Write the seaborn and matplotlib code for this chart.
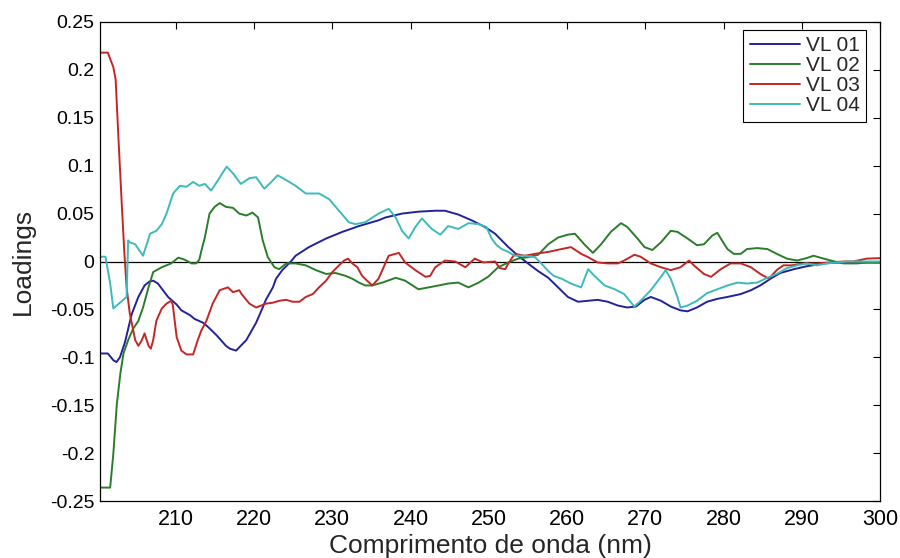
import matplotlib
matplotlib.use("Agg")
import matplotlib.pyplot as plt
import seaborn as sns
import pandas as pd

# Wavelength (nm) and loading values for each latent variable
vl01_x = [200.3, 201.3, 202.0, 202.4, 202.85, 203.5, 204.35, 205.2, 206.0, 206.6,
          207.1, 207.7, 209.0, 210.1, 210.7, 211.8, 212.4, 213.5, 214.2, 215.2,
          216.4, 216.9, 217.7, 219.0, 220.25, 221.1, 221.5, 222.4, 222.8, 223.6,
          224.7, 225.3, 227.0, 229.2, 231.3, 233.4, 235.9, 236.8, 238.9, 241.0,
          243.15, 244.4, 246.1, 247.8, 249.5, 250.8, 252.5, 253.75, 255.0, 256.3,
          257.6, 258.85, 260.1, 261.4, 262.7, 263.9, 265.2, 266.5, 267.7, 268.8,
          269.9, 270.7, 272.0, 273.25, 274.5, 275.4, 276.6, 277.9, 279.2, 280.5,
          282.2, 283.5, 284.7, 286.0, 287.25, 289.0, 290.6, 292.8, 294.9, 297.0,
          300.0]
vl01_y = [-0.096, -0.096, -0.103, -0.105, -0.100, -0.084, -0.055, -0.037, -0.025, -0.021,
          -0.020, -0.023, -0.037, -0.045, -0.051, -0.056, -0.060, -0.064, -0.069, -0.077,
          -0.088, -0.091, -0.093, -0.082, -0.064, -0.048, -0.040, -0.027, -0.018, -0.009,
          0.000, 0.006, 0.015, 0.024, 0.031, 0.037, 0.043, 0.046, 0.050, 0.052,
          0.053, 0.053, 0.049, 0.043, 0.036, 0.029, 0.015, 0.006, -0.002, -0.010,
          -0.017, -0.027, -0.037, -0.042, -0.041, -0.040, -0.042, -0.046, -0.048, -0.047,
          -0.040, -0.037, -0.041, -0.047, -0.051, -0.052, -0.048, -0.042, -0.039, -0.037,
          -0.034, -0.030, -0.025, -0.018, -0.012, -0.008, -0.005, -0.002, -0.001, -0.001,
          -0.001]

vl02_x = [200.3, 201.6, 202.0, 202.45, 202.9, 203.3, 203.9, 204.55, 205.2, 205.8,
          206.5, 207.1, 208.2, 209.4, 210.3, 211.1, 212.0, 212.6, 213.0, 213.25,
          213.7, 214.3, 214.95, 215.6, 216.4, 217.3, 218.1, 219.0, 219.8, 220.5,
          221.1, 221.75, 222.6, 223.2, 224.1, 225.3, 226.6, 227.9, 229.2, 230.4,
          231.7, 232.55, 233.4, 234.2, 235.1, 236.4, 238.1, 239.3, 241.0, 242.3,
          243.6, 244.8, 246.1, 247.4, 248.7, 249.9, 251.2, 252.5, 253.75, 255.0,
          256.3, 257.6, 258.85, 260.1, 261.0, 262.2, 263.3, 264.35, 265.6, 266.9,
          267.7, 269.0, 269.9, 270.9, 272.0, 273.25, 274.1, 275.4, 276.6, 277.5,
          278.55, 279.2, 279.8, 280.5, 281.3, 282.2, 283.0, 284.3, 285.6, 286.8,
          288.1, 289.4, 290.6, 291.5, 292.8, 294.05, 295.3, 297.05, 298.3, 300.0]
vl02_y = [-0.236, -0.236, -0.201, -0.149, -0.117, -0.096, -0.082, -0.070, -0.062, -0.048,
          -0.027, -0.011, -0.006, -0.002, 0.004, 0.002, -0.002, -0.002, 0.002, 0.011,
          0.025, 0.050, 0.057, 0.061, 0.057, 0.056, 0.050, 0.048, 0.051, 0.046,
          0.022, 0.0045, -0.006, -0.008, -0.002, -0.002, -0.004, -0.009, -0.013, -0.012,
          -0.015, -0.018, -0.022, -0.025, -0.025, -0.022, -0.017, -0.020, -0.029, -0.027,
          -0.025, -0.023, -0.022, -0.027, -0.022, -0.016, -0.006, -0.001, 0.003, 0.0045,
          0.007, 0.018, 0.025, 0.028, 0.029, 0.018, 0.009, 0.018, 0.031, 0.040,
          0.036, 0.024, 0.015, 0.012, 0.020, 0.032, 0.031, 0.024, 0.017, 0.018,
          0.027, 0.030, 0.022, 0.013, 0.008, 0.008, 0.013, 0.014, 0.013, 0.008,
          0.003, 0.001, 0.0035, 0.006, 0.003, 0.0003, -0.002, -0.002, -0.001, -0.001]

vl03_x = [200.3, 201.3, 202.0, 202.3, 202.65, 203.1, 203.4, 203.7, 204.1, 204.55,
          204.8, 205.2, 205.6, 206.0, 206.5, 206.8, 207.1, 207.5, 208.2, 208.8,
          209.4, 209.6, 210.1, 210.7, 211.35, 212.2, 212.8, 213.25, 213.9, 214.7,
          215.6, 216.65, 217.3, 218.1, 218.4, 219.4, 220.25, 220.9, 221.5, 222.4,
          223.2, 224.1, 224.9, 225.8, 226.6, 227.5, 228.3, 229.2, 230.0, 230.85,
          231.5, 232.0, 232.55, 233.2, 233.8, 234.7, 235.1, 235.9, 237.2, 238.5,
          239.3, 240.6, 241.9, 242.5, 243.15, 244.4, 245.7, 247.0, 248.2, 249.3,
          250.8, 251.4, 252.1, 252.5, 253.3, 254.6, 255.9, 257.6, 259.3, 260.5,
          261.8, 262.7, 263.9, 265.2, 266.5, 267.3, 268.6, 269.4, 270.7, 272.0,
          273.25, 274.5, 275.6, 276.2, 277.5, 278.4, 279.65, 280.9, 282.2, 283.5,
          284.7, 285.8, 286.8, 287.65, 288.7, 290.2, 291.9, 293.6, 295.3, 296.6,
          298.3, 300.0]
vl03_y = [0.218, 0.218, 0.203, 0.190, 0.130, 0.057, 0.011, -0.027, -0.054, -0.072,
          -0.082, -0.088, -0.083, -0.075, -0.088, -0.091, -0.082, -0.062, -0.049, -0.044,
          -0.041, -0.045, -0.079, -0.093, -0.097, -0.097, -0.082, -0.072, -0.062, -0.044,
          -0.030, -0.027, -0.032, -0.030, -0.034, -0.044, -0.048, -0.046, -0.044, -0.043,
          -0.041, -0.040, -0.042, -0.042, -0.037, -0.034, -0.027, -0.020, -0.011, -0.004,
          0.001, 0.003, -0.002, -0.006, -0.015, -0.022, -0.025, -0.018, 0.006, 0.009,
          -0.001, -0.009, -0.016, -0.015, -0.006, 0.001, 0.000, -0.006, 0.003, -0.001,
          0.000, -0.007, -0.008, -0.002, 0.008, 0.006, 0.008, 0.010, 0.013, 0.015,
          0.008, 0.0045, -0.001, -0.002, -0.002, 0.001, 0.007, 0.005, -0.002, -0.006,
          -0.009, -0.006, 0.001, -0.004, -0.013, -0.016, -0.008, -0.002, -0.002, -0.006,
          -0.013, -0.018, -0.009, -0.004, -0.004, -0.002, -0.002, -0.001, 0.000, 0.000,
          0.003, 0.0035]

vl04_x = [200.3, 201.0, 201.6, 202.0, 203.7, 203.9, 204.1, 204.8, 205.8, 206.7,
          207.5, 208.2, 208.8, 209.65, 210.5, 211.35, 212.2, 213.0, 213.7, 214.5,
          215.4, 216.0, 216.5, 217.3, 218.3, 219.4, 220.25, 221.3, 222.2, 223.0,
          224.1, 225.3, 226.6, 228.3, 229.6, 230.85, 232.1, 232.95, 234.2, 235.9,
          237.2, 238.1, 238.9, 239.75, 240.6, 241.45, 242.7, 243.8, 244.8, 246.1,
          247.4, 248.7, 249.7, 250.35, 251.0, 251.65, 252.5, 253.3, 254.6, 255.9,
          256.7, 257.6, 258.3, 259.3, 260.5, 261.8, 262.7, 263.5, 264.8, 266.1,
          267.3, 268.6, 269.4, 270.7, 272.0, 272.6, 273.25, 274.1, 274.5, 275.4,
          276.6, 277.9, 279.2, 280.5, 281.8, 283.0, 284.3, 285.6, 286.8, 288.1,
          289.4, 290.6, 291.9, 293.2, 294.5, 295.8, 297.5, 300.0]
vl04_y = [0.005, 0.005, -0.023, -0.049, -0.037, 0.022, 0.020, 0.018, 0.006, 0.029,
          0.032, 0.039, 0.050, 0.071, 0.079, 0.078, 0.083, 0.079, 0.081, 0.074,
          0.085, 0.093, 0.099, 0.092, 0.081, 0.087, 0.088, 0.076, 0.083, 0.090,
          0.085, 0.079, 0.071, 0.071, 0.065, 0.053, 0.041, 0.039, 0.041, 0.050,
          0.055, 0.046, 0.032, 0.024, 0.036, 0.045, 0.034, 0.028, 0.037, 0.034,
          0.040, 0.039, 0.036, 0.024, 0.017, 0.013, 0.010, 0.006, 0.006, 0.0045,
          -0.002, -0.010, -0.015, -0.018, -0.023, -0.027, -0.008, -0.015, -0.025, -0.029,
          -0.034, -0.047, -0.041, -0.030, -0.016, -0.009, -0.018, -0.037, -0.048, -0.046,
          -0.041, -0.033, -0.029, -0.025, -0.022, -0.023, -0.022, -0.017, -0.013, -0.007,
          -0.004, -0.002, -0.004, -0.002, -0.001, 0.0, 0.0, 0.0]

series_names = ["VL 01", "VL 02", "VL 03", "VL 04"]
series_colors = ["#22229a", "#2a7d2a", "#c42626", "#3dbaba"]

frames = []
for name, xs, ys in zip(series_names,
                        [vl01_x, vl02_x, vl03_x, vl04_x],
                        [vl01_y, vl02_y, vl03_y, vl04_y]):
    frames.append(pd.DataFrame({"wl": xs, "loading": ys, "serie": name}))
data = pd.concat(frames, ignore_index=True)

sns.set_style("white")
plt.rcParams["font.family"] = ["Liberation Sans", "DejaVu Sans"]

fig = plt.figure(figsize=(9, 5.58), dpi=100)
ax = fig.add_axes([100 / 900, 1 - 501 / 558, 780 / 900, 479 / 558])

ax.axhline(0, color="black", lw=0.9, zorder=1)
sns.lineplot(data=data, x="wl", y="loading", hue="serie",
             palette=dict(zip(series_names, series_colors)),
             estimator=None, sort=False, lw=1.4, ax=ax, zorder=2)

ax.set_xlim(200.3, 300)
ax.set_ylim(-0.25, 0.25)
ax.set_xticks(list(range(210, 301, 10)))
ax.set_yticks([-0.25, -0.2, -0.15, -0.1, -0.05, 0, 0.05, 0.1, 0.15, 0.2, 0.25])
ax.set_yticklabels(["-0.25", "-0.2", "-0.15", "-0.1", "-0.05", "0",
                    "0.05", "0.1", "0.15", "0.2", "0.25"])
ax.tick_params(axis="both", direction="in", length=5, width=0.8,
               top=True, right=True, colors="black")
ax.tick_params(axis="y", labelsize=14, pad=4)
ax.tick_params(axis="x", labelsize=15.5, pad=6)

for sp in ax.spines.values():
    sp.set_visible(True)
    sp.set_color("black")
    sp.set_linewidth(0.9)

ax.set_xlabel("Comprimento de onda (nm)", fontsize=19, labelpad=3)
ax.set_ylabel("Loadings", fontsize=19, labelpad=11)

handles, labels = ax.get_legend_handles_labels()
leg = ax.legend(handles, labels, loc="upper right",
                bbox_to_anchor=((866 - 100) / 780, (501 - 30) / 479),
                borderaxespad=0, fontsize=15, frameon=True, fancybox=False,
                framealpha=1, edgecolor="black", labelspacing=0.05,
                handlelength=2.4, handletextpad=0.3, borderpad=0.3)
leg.get_frame().set_linewidth(0.8)

fig.savefig("out.png", dpi=100, facecolor="white")
